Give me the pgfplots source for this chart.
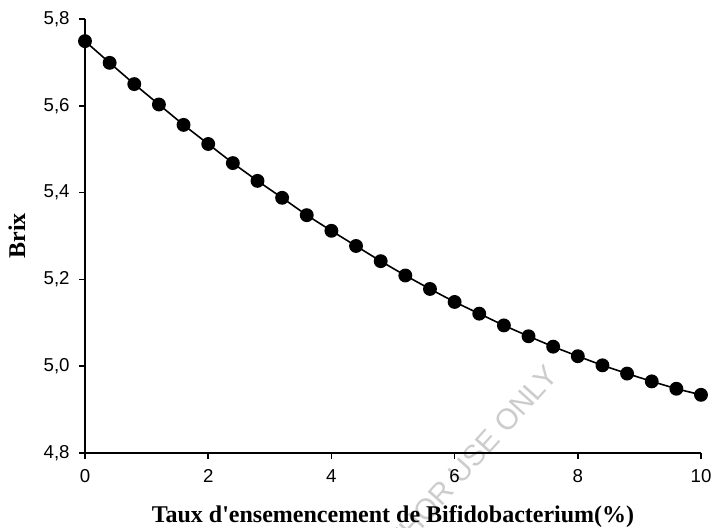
\documentclass[border=0pt]{standalone}
\usepackage{pgfplots}
\pgfplotsset{compat=1.18}
\usepackage{fontspec}
\setmainfont{Liberation Serif}
\newfontfamily\arialfont{Liberation Sans}

\begin{document}
\begin{tikzpicture}[x=0.75pt,y=0.75pt]
% light diagonal stamp running off the bottom edge, behind the plot
\node[text=black!20, rotate=48, font=\arialfont\fontsize{22}{25}\selectfont,
      anchor=north east, inner sep=0pt]
  at (459,90) {FOR AUTHOR USE ONLY};
\begin{axis}[
  at={(0,0)}, anchor=origin,
  scale only axis,
  width=462pt, height=325.5pt,
  xmin=0, xmax=10, ymin=4.8, ymax=5.8,
  axis lines=left,
  axis line style={-, line width=1.3pt},
  xtick={0,2,...,10},
  ytick={4.8,5.0,...,5.8},
  tick align=outside,
  major tick length=4.5pt,
  tick style={black, line width=1.1pt},
  every tick label/.append style={font=\arialfont\fontsize{14}{16}\selectfont},
  /pgf/number format/assume math mode=true,
  yticklabel style={xshift=-3.5pt, /pgf/number format/.cd, use comma, fixed, fixed zerofill, precision=1},
  xticklabel style={yshift=-4.5pt, /pgf/number format/.cd, fixed, precision=0},
  xlabel={\bfseries Taux d\textquotesingle ensemencement de Bifidobacterium(\%)},
  ylabel={\bfseries Brix},
  label style={font=\fontsize{18}{21}\selectfont},
  xlabel style={at={(axis description cs:0.5,-0.159)}, anchor=base},
  ylabel style={at={(axis description cs:-0.0974,0.5)}, anchor=base},
  clip=false,
]
\addplot[black, line width=1.2pt, mark=*, mark size=4.6pt, mark options={fill=black}]
coordinates {
 (0.0,5.749) (0.4,5.699) (0.8,5.650) (1.2,5.603) (1.6,5.556)
 (2.0,5.512) (2.4,5.468) (2.8,5.427) (3.2,5.388) (3.6,5.348)
 (4.0,5.312) (4.4,5.277) (4.8,5.242) (5.2,5.209) (5.6,5.178)
 (6.0,5.148) (6.4,5.121) (6.8,5.094) (7.2,5.069) (7.6,5.045)
 (8.0,5.023) (8.4,5.002) (8.8,4.983) (9.2,4.965) (9.6,4.948)
 (10.0,4.934)
};
\end{axis}
\pgfresetboundingbox
\useasboundingbox (-85,-74) rectangle (627,453);
\end{tikzpicture}
\end{document}
